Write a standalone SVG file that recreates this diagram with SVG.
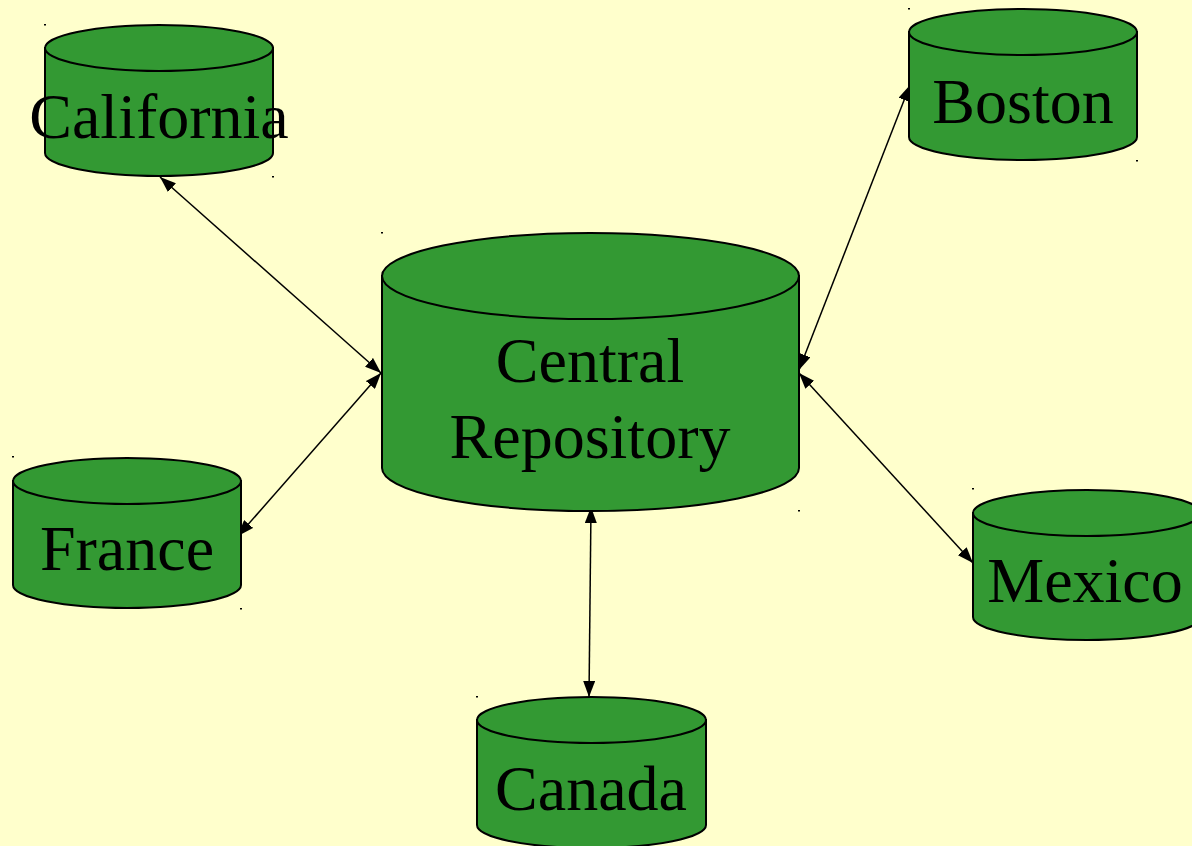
<svg xmlns="http://www.w3.org/2000/svg" width="1192" height="846" viewBox="0 0 1192 846">
<defs>
<style>
.cyl{fill:#339933;stroke:#000;stroke-width:2}
.lbl{font-family:"Liberation Serif","Times New Roman",serif;font-size:64px;fill:#000;text-anchor:middle}
.con{stroke:#000;stroke-width:1.5;fill:none;marker-start:url(#ah);marker-end:url(#ah)}
.dot{fill:#000}
</style>
<marker id="ah" viewBox="0 0 16 12" refX="16" refY="6" markerWidth="16" markerHeight="12" markerUnits="userSpaceOnUse" orient="auto-start-reverse">
<path d="M0,0 L16,6 L0,12 Z" fill="#000"/>
</marker>
</defs>
<rect width="1192" height="846" fill="#FFFFCC"/>
<g id="connectors">
<line class="con" x1="160" y1="177" x2="381" y2="373"/>
<line class="con" x1="238" y1="536" x2="381" y2="373"/>
<line class="con" x1="799" y1="370" x2="910" y2="85"/>
<line class="con" x1="799" y1="373" x2="973" y2="563"/>
<line class="con" x1="591" y1="507" x2="589" y2="697"/>
</g>
<g id="california">
<path class="cyl" d="M45,48 L45,153 A114,23 0 0 0 273,153 L273,48 Z"/>
<ellipse class="cyl" cx="159" cy="48" rx="114" ry="23"/>
<rect class="dot" x="44" y="24" width="2" height="1.5"/>
<rect class="dot" x="272" y="176" width="2" height="1.5"/>
<text class="lbl" x="159" y="138">California</text>
</g>
<g id="central">
<path class="cyl" d="M382,276 L382,468 A208.5,43 0 0 0 799,468 L799,276 Z"/>
<ellipse class="cyl" cx="590.5" cy="276" rx="208.5" ry="43"/>
<rect class="dot" x="381" y="232" width="2" height="1.5"/>
<rect class="dot" x="798" y="510" width="2" height="1.5"/>
<text class="lbl" x="590" y="382">Central</text>
<text class="lbl" x="590" y="458">Repository</text>
</g>
<g id="boston">
<path class="cyl" d="M909,32 L909,137 A114,23 0 0 0 1137,137 L1137,32 Z"/>
<ellipse class="cyl" cx="1023" cy="32" rx="114" ry="23"/>
<rect class="dot" x="908" y="8" width="2" height="1.5"/>
<rect class="dot" x="1136" y="160" width="2" height="1.5"/>
<text class="lbl" x="1023" y="123">Boston</text>
</g>
<g id="france">
<path class="cyl" d="M13,481 L13,585 A114,23 0 0 0 241,585 L241,481 Z"/>
<ellipse class="cyl" cx="127" cy="481" rx="114" ry="23"/>
<rect class="dot" x="12" y="456" width="2" height="1.5"/>
<rect class="dot" x="240" y="608" width="2" height="1.5"/>
<text class="lbl" x="127" y="570">France</text>
</g>
<g id="mexico">
<path class="cyl" d="M973,513 L973,617 A114,23 0 0 0 1201,617 L1201,513 Z"/>
<ellipse class="cyl" cx="1087" cy="513" rx="114" ry="23"/>
<rect class="dot" x="972" y="488" width="2" height="1.5"/>
<text class="lbl" x="1085" y="602">Mexico</text>
</g>
<g id="canada">
<path class="cyl" d="M477,720 L477,825 A114.5,23 0 0 0 706,825 L706,720 Z"/>
<ellipse class="cyl" cx="591.5" cy="720" rx="114.5" ry="23"/>
<rect class="dot" x="476" y="696" width="2" height="1.5"/>
<text class="lbl" x="591" y="810">Canada</text>
</g>
</svg>
